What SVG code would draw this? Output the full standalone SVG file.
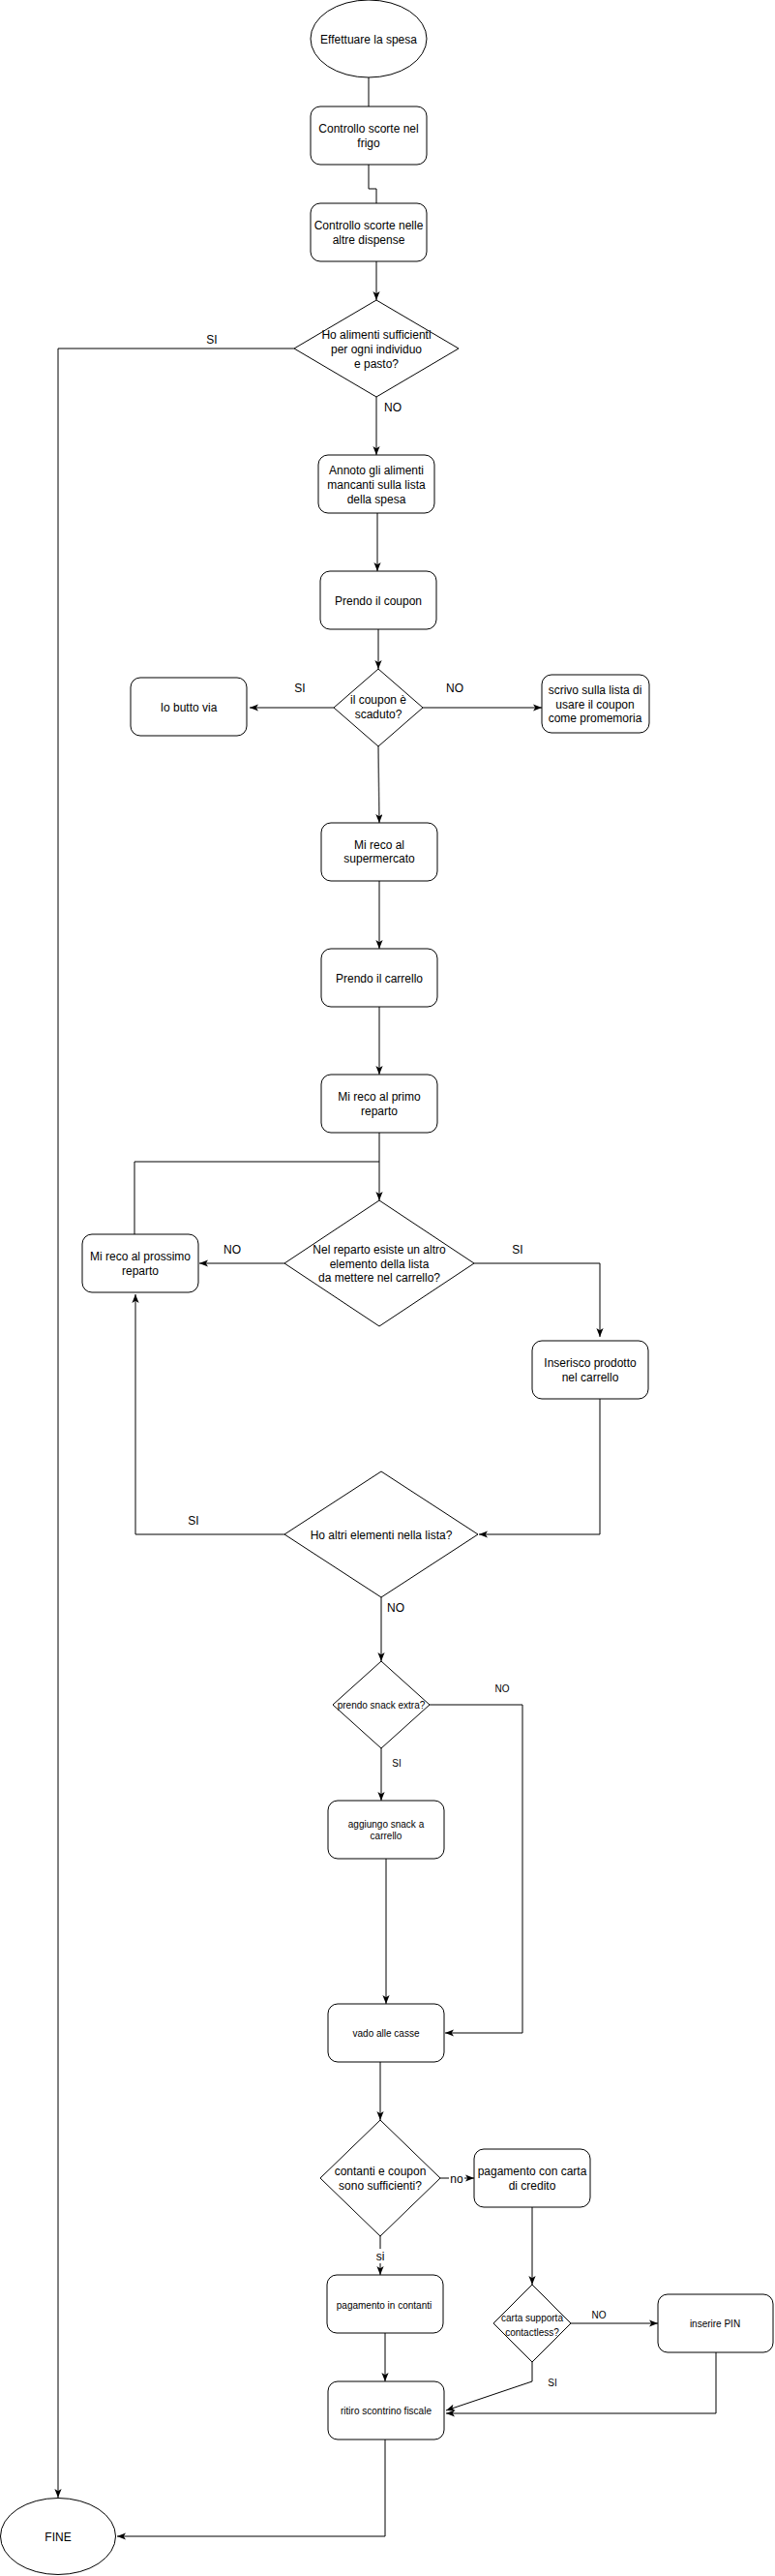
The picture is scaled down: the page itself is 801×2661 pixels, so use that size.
<svg xmlns="http://www.w3.org/2000/svg" width="801" height="2661" viewBox="0 0 801 2661">
<style>
.n{fill:#fff;stroke:#000;stroke-width:1}
.c{fill:none;stroke:#000;stroke-width:1}
.g{fill:none;stroke:#555;stroke-width:1.5}
.t{font-family:"Liberation Sans",Arial,sans-serif;font-size:12px;fill:#000;text-anchor:middle}
.s{font-family:"Liberation Sans",Arial,sans-serif;font-size:10px;fill:#000;text-anchor:middle}
</style>
<defs>
<marker id="a" viewBox="0 0 10 8" refX="10" refY="4" markerWidth="9" markerHeight="7.2" markerUnits="userSpaceOnUse" orient="auto">
<path d="M0,0 L10,4 L0,8 L2.5,4 z" fill="#000"/>
</marker>
</defs>
<rect width="801" height="2661" fill="#fff"/>
<g id="connectors">
<path class="c" d="M381,80 V110"/>
<path class="c" d="M381,170 V195 H389 V210"/>
<path class="c" d="M389,270 V310" marker-end="url(#a)"/>
<path class="c" d="M304,360 H60 V2580" marker-end="url(#a)"/>
<path class="c" d="M389,410 V470" marker-end="url(#a)"/>
<path class="c" d="M390,530 V590" marker-end="url(#a)"/>
<path class="c" d="M391,650 V691" marker-end="url(#a)"/>
<path class="c" d="M345,731 H258" marker-end="url(#a)"/>
<path class="g" d="M437,731 H560" marker-end="url(#a)"/>
<path class="g" d="M391,771 L392,850" marker-end="url(#a)"/>
<path class="c" d="M392,910 V980" marker-end="url(#a)"/>
<path class="c" d="M392,1040 V1110" marker-end="url(#a)"/>
<path class="c" d="M392,1170 V1240" marker-end="url(#a)"/>
<path class="c" d="M139,1275 V1200 H392"/>
<path class="c" d="M294,1305 H206" marker-end="url(#a)"/>
<path class="c" d="M490,1305 H620 V1381" marker-end="url(#a)"/>
<path class="c" d="M620,1445 V1585 H495" marker-end="url(#a)"/>
<path class="c" d="M294,1585 H140 V1337" marker-end="url(#a)"/>
<path class="c" d="M394,1650 V1716" marker-end="url(#a)"/>
<path class="c" d="M444,1761 H540 V2100 H460" marker-end="url(#a)"/>
<path class="c" d="M394,1806 V1860" marker-end="url(#a)"/>
<path class="c" d="M399,1920 V2070" marker-end="url(#a)"/>
<path class="c" d="M393,2130 V2190" marker-end="url(#a)"/>
<path class="c" d="M455,2250 H490" marker-end="url(#a)"/>
<path class="c" d="M393,2310 V2350" marker-end="url(#a)"/>
<path class="c" d="M398,2410 V2460" marker-end="url(#a)"/>
<path class="c" d="M550,2280 V2360" marker-end="url(#a)"/>
<path class="c" d="M590,2400 H680" marker-end="url(#a)"/>
<path class="c" d="M740,2430 V2493 H461" marker-end="url(#a)"/>
<path class="c" d="M550,2440 V2460 L461,2490" marker-end="url(#a)"/>
<path class="c" d="M398,2520 V2620 H121" marker-end="url(#a)"/>
<text class="t" x="219" y="355">SI</text>
<text class="t" x="406" y="425">NO</text>
<text class="t" x="310" y="715">SI</text>
<text class="t" x="470" y="715">NO</text>
<text class="t" x="240" y="1295">NO</text>
<text class="t" x="535" y="1295">SI</text>
<text class="t" x="200" y="1575">SI</text>
<text class="t" x="409" y="1665">NO</text>
<text class="s" x="519" y="1748">NO</text>
<text class="s" x="410" y="1825">SI</text>
<rect x="464" y="2243" width="16" height="15" fill="#fff"/>
<text class="t" x="472" y="2255">no</text>
<rect x="387" y="2323" width="12" height="15" fill="#fff"/>
<text class="t" x="393" y="2335">si</text>
<text class="s" x="619" y="2395">NO</text>
<text class="s" x="571" y="2465">SI</text>
</g>
<g id="start">
<ellipse class="n" cx="381" cy="40" rx="60" ry="40"/>
<text class="t" x="381" y="45">Effettuare la spesa</text>
</g>
<g id="frigo">
<rect class="n" x="321" y="110" width="120" height="60" rx="10"/>
<text class="t" x="381" y="137">Controllo scorte nel</text>
<text class="t" x="381" y="152">frigo</text>
</g>
<g id="dispense">
<rect class="n" x="321" y="210" width="120" height="60" rx="10"/>
<text class="t" x="381" y="237">Controllo scorte nelle</text>
<text class="t" x="381" y="252">altre dispense</text>
</g>
<g id="dec-alimenti">
<polygon class="n" points="389,310 474,360 389,410 304,360"/>
<text class="t" x="389" y="350">Ho alimenti sufficienti</text>
<text class="t" x="389" y="365">per ogni individuo</text>
<text class="t" x="389" y="380">e pasto?</text>
</g>
<g id="annoto">
<rect class="n" x="329" y="470" width="120" height="60" rx="10"/>
<text class="t" x="389" y="490">Annoto gli alimenti</text>
<text class="t" x="389" y="505">mancanti sulla lista</text>
<text class="t" x="389" y="520">della spesa</text>
</g>
<g id="coupon">
<rect class="n" x="331" y="590" width="120" height="60" rx="10"/>
<text class="t" x="391" y="625">Prendo il coupon</text>
</g>
<g id="dec-coupon">
<polygon class="n" points="391,691 437,731 391,771 345,731"/>
<text class="t" x="391" y="727">il coupon è</text>
<text class="t" x="391" y="742">scaduto?</text>
</g>
<g id="butto">
<rect class="n" x="135" y="700" width="120" height="60" rx="10"/>
<text class="t" x="195" y="735">Io butto via</text>
</g>
<g id="scrivo">
<rect class="n" x="560" y="697" width="111" height="60" rx="10"/>
<text class="t" x="615" y="717">scrivo sulla lista di</text>
<text class="t" x="615" y="732">usare il coupon</text>
<text class="t" x="615" y="746">come promemoria</text>
</g>
<g id="supermercato">
<rect class="n" x="332" y="850" width="120" height="60" rx="10"/>
<text class="t" x="392" y="877">Mi reco al</text>
<text class="t" x="392" y="891">supermercato</text>
</g>
<g id="carrello">
<rect class="n" x="332" y="980" width="120" height="60" rx="10"/>
<text class="t" x="392" y="1015">Prendo il carrello</text>
</g>
<g id="primo">
<rect class="n" x="332" y="1110" width="120" height="60" rx="10"/>
<text class="t" x="392" y="1137">Mi reco al primo</text>
<text class="t" x="392" y="1152">reparto</text>
</g>
<g id="dec-reparto">
<polygon class="n" points="392,1240 490,1305 392,1370 294,1305"/>
<text class="t" x="392" y="1295">Nel reparto esiste un altro</text>
<text class="t" x="392" y="1310">elemento della lista</text>
<text class="t" x="392" y="1324">da mettere nel carrello?</text>
</g>
<g id="prossimo">
<rect class="n" x="85" y="1275" width="120" height="60" rx="10"/>
<text class="t" x="145" y="1302">Mi reco al prossimo</text>
<text class="t" x="145" y="1317">reparto</text>
</g>
<g id="inserisco">
<rect class="n" x="550" y="1385" width="120" height="60" rx="10"/>
<text class="t" x="610" y="1412">Inserisco prodotto</text>
<text class="t" x="610" y="1427">nel carrello</text>
</g>
<g id="dec-altri">
<polygon class="n" points="394,1520 494,1585 394,1650 294,1585"/>
<text class="t" x="394" y="1590">Ho altri elementi nella lista?</text>
</g>
<g id="dec-snack">
<polygon class="n" points="394,1716 444,1761 394,1806 344,1761"/>
<text class="s" x="394" y="1765">prendo snack extra?</text>
</g>
<g id="aggiungo">
<rect class="n" x="339" y="1860" width="120" height="60" rx="10"/>
<text class="s" x="399" y="1888">aggiungo snack a</text>
<text class="s" x="399" y="1900">carrello</text>
</g>
<g id="casse">
<rect class="n" x="339" y="2070" width="120" height="60" rx="10"/>
<text class="s" x="399" y="2104">vado alle casse</text>
</g>
<g id="dec-contanti">
<polygon class="n" points="393,2190 455,2250 393,2310 331,2250"/>
<text class="t" x="393" y="2247">contanti e coupon</text>
<text class="t" x="393" y="2262">sono sufficienti?</text>
</g>
<g id="carta">
<rect class="n" x="490" y="2220" width="120" height="60" rx="10"/>
<text class="t" x="550" y="2247">pagamento con carta</text>
<text class="t" x="550" y="2262">di credito</text>
</g>
<g id="contanti">
<rect class="n" x="338" y="2350" width="120" height="60" rx="10"/>
<text class="s" x="397" y="2385">pagamento in contanti</text>
</g>
<g id="dec-contactless">
<polygon class="n" points="550,2360 590,2400 550,2440 510,2400"/>
<text class="s" x="550" y="2398">carta supporta</text>
<text class="s" x="550" y="2413">contactless?</text>
</g>
<g id="pin">
<rect class="n" x="680" y="2370" width="119" height="60" rx="10"/>
<text class="s" x="739" y="2404">inserire PIN</text>
</g>
<g id="ritiro">
<rect class="n" x="339" y="2460" width="120" height="60" rx="10"/>
<text class="s" x="399" y="2494">ritiro scontrino fiscale</text>
</g>
<g id="fine">
<ellipse class="n" cx="60" cy="2620" rx="59.5" ry="39.5"/>
<text class="t" x="60" y="2625">FINE</text>
</g>
</svg>
